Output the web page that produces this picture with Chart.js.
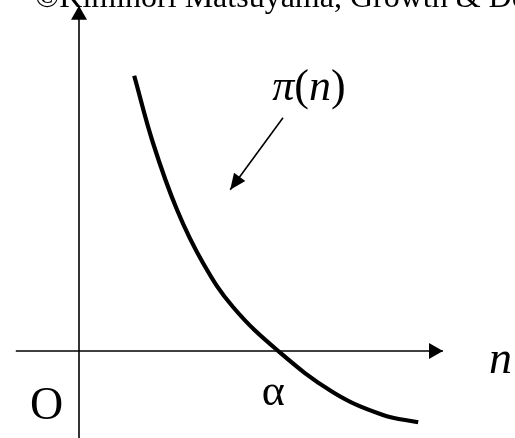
<!DOCTYPE html>
<html>
<head>
<meta charset="utf-8">
<script src="https://cdn.jsdelivr.net/npm/chart.js@4/dist/chart.umd.min.js"></script>
<style>
  html, body { margin: 0; padding: 0; background: #fff; }
  #grafico { display: block; }
</style>
</head>
<body>
<canvas id="grafico" width="515" height="438"></canvas>
<script>
// curve pi(n) (axis units, origin at O)
var curveN  = [1.38, 1.85, 2.45, 3.1, 3.85, 4.98, 6.35, 7.6, 8.48];
var curvePi = [6.88, 5.2, 3.53, 2.2, 1.1, 0, -1.03, -1.6, -1.78];

// axes and the pointer arrow (start, end)
var axisN  = [-1.58, 9.1];
var axisPi = [-2.2, 8.63];
var pointerN  = [5.1, 3.78];
var pointerPi = [5.83, 4.03];

var alphaValue = 4.98;

function pts(xs, ys) {
    return xs.map(function (x, i) { return { x: x, y: ys[i] }; });
}

var data = {
    datasets: [{
        label: 'π(n)',
        data: pts(curveN, curvePi),
        borderColor: '#000',
        borderWidth: 4.2,
        pointRadius: 0,
        showLine: true,
        tension: 0.4,
        arrow: false
    },
    {
        label: 'n axis',
        data: pts(axisN, [0, 0]),
        borderColor: '#000',
        borderWidth: 1.6,
        pointRadius: 0,
        showLine: true,
        arrow: true
    },
    {
        label: 'pi axis',
        data: pts([0, 0], axisPi),
        borderColor: '#000',
        borderWidth: 1.6,
        pointRadius: 0,
        showLine: true,
        arrow: true
    },
    {
        label: 'pointer',
        data: pts(pointerN, pointerPi),
        borderColor: '#000',
        borderWidth: 1.6,
        pointRadius: 0,
        showLine: true,
        arrow: true
    }]
};

var serif = '"Liberation Serif", "Times New Roman", serif';

function arrowHead(ctx, x0, y0, x1, y1, len, half) {
    var a = Math.atan2(y1 - y0, x1 - x0);
    ctx.save();
    ctx.translate(x1, y1);
    ctx.rotate(a);
    ctx.beginPath();
    ctx.moveTo(0, 0);
    ctx.lineTo(-len, -half);
    ctx.lineTo(-len, half);
    ctx.closePath();
    ctx.fillStyle = '#000';
    ctx.fill();
    ctx.restore();
}

var sketch = {
    id: 'sketch',
    afterDatasetsDraw: function (chart) {
        var ctx = chart.ctx;
        var xs = chart.scales.x, ys = chart.scales.y;
        chart.data.datasets.forEach(function (ds, i) {
            if (!ds.arrow) return;
            var p = ds.data, n = p.length;
            var x0 = xs.getPixelForValue(p[n - 2].x), y0 = ys.getPixelForValue(p[n - 2].y);
            var x1 = xs.getPixelForValue(p[n - 1].x), y1 = ys.getPixelForValue(p[n - 1].y);
            if (i === 3) arrowHead(ctx, x0, y0, x1, y1, 16, 7);
            else arrowHead(ctx, x0, y0, x1, y1, 14, 8);
        });

        ctx.save();
        ctx.fillStyle = '#000';
        ctx.textBaseline = 'alphabetic';

        // copyright line, cut by the top edge
        ctx.font = '32px ' + serif;
        ctx.textAlign = 'left';
        ctx.fillText('©Kiminori Matsuyama, Growth & Development', xs.getPixelForValue(-1.1), ys.getPixelForValue(8.6));

        // pi(n) label
        var parts = [['π', 'italic '], ['(', ''], ['n', 'italic '], [')', '']];
        var size = 44;
        var w = 0;
        parts.forEach(function (p) { ctx.font = p[1] + size + 'px ' + serif; w += ctx.measureText(p[0]).width; });
        var x = xs.getPixelForValue(5.75) - w / 2;
        var y = ys.getPixelForValue(6.28);
        parts.forEach(function (p) {
            ctx.font = p[1] + size + 'px ' + serif;
            ctx.fillText(p[0], x, y);
            x += ctx.measureText(p[0]).width;
        });

        // axis labels
        ctx.textAlign = 'left';
        ctx.font = 'italic 46px ' + serif;
        ctx.fillText('n', xs.getPixelForValue(10.25), ys.getPixelForValue(-0.55));

        ctx.textAlign = 'center';
        ctx.font = '46px ' + serif;
        ctx.fillText('O', xs.getPixelForValue(-0.81), ys.getPixelForValue(-1.7));

        ctx.font = '44px ' + serif;
        ctx.fillText('α', xs.getPixelForValue(alphaValue - 0.12), ys.getPixelForValue(-1.35));
        ctx.restore();
    }
};

var options = {
    responsive: false,
    animation: false,
    layout: { padding: 0 },
    plugins: {
        legend: { display: false },
        tooltip: { enabled: false }
    },
    scales: {
        x: { type: 'linear', min: -1.975, max: 10.9, display: false },
        y: { type: 'linear', min: -2.175, max: 8.775, display: false }
    }
};

var ctx = document.querySelector('#grafico').getContext('2d');
var sketchChart = new Chart(ctx, {
    type: 'scatter',
    data: data,
    options: options,
    plugins: [sketch]
});
</script>
</body>
</html>
